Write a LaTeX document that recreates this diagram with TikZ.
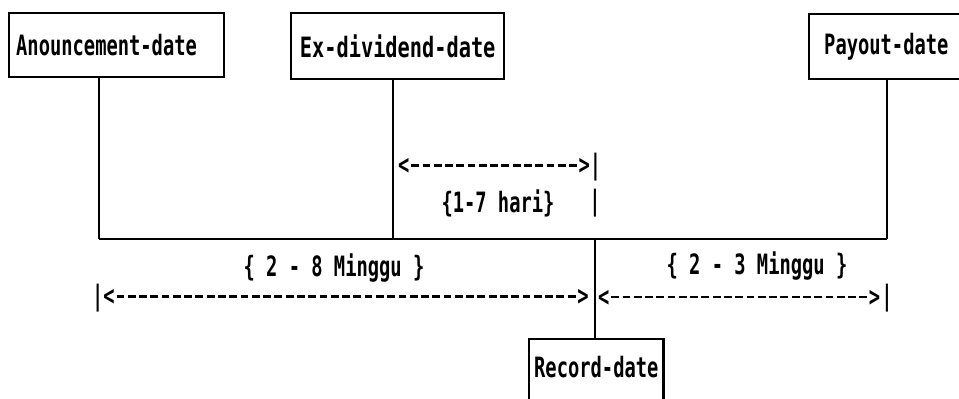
\documentclass[tikz,border=0pt]{standalone}
\usepackage{fontspec}
% narrow bold monospace, close to a dot-matrix print
\newfontfamily\dotfont{DejaVu Sans Mono}[FakeStretch=0.67]
\newfontfamily\dotwidefont{DejaVu Sans Mono}[FakeStretch=0.725]
% one character cell of the monospace grid, and a row of long dashes in it
\newlength\cellw
\setlength\cellw{11.28pt}
\ExplSyntaxOn
\NewDocumentCommand\dashrow{m}{\prg_replicate:nn{#1}{\makebox[\cellw]{\rule[7.6pt]{7.8pt}{2.4pt}}}}
\ExplSyntaxOff
\tikzset{
  datebox/.style={draw, line width=2.4pt, rectangle, inner ysep=0pt,
    font=\dotfont\bfseries\fontsize{28pt}{32pt}\selectfont},
  link/.style={line width=2.4pt},
  txt/.style={inner sep=0pt, font=\dotfont\bfseries\fontsize{28pt}{32pt}\selectfont},
}
\begin{document}
\begin{tikzpicture}[x=1pt,y=-1pt]
\useasboundingbox (0,0) rectangle (959,399);

% date boxes
\node[datebox, anchor=north west, inner xsep=7pt, text width=201pt, align=left,
      minimum height=64pt] (ann) at (8,12) {Anouncement-date};
\node[datebox, anchor=north west, minimum width=213pt, minimum height=66pt,
      font=\dotwidefont\bfseries\fontsize{28pt}{32pt}\selectfont] (exd) at (290,12) {Ex-dividend-date};
\node[datebox, anchor=north west, inner xsep=15pt, text width=140pt, align=left,
      minimum height=65pt] (pay) at (808,13) {Payout-date};
\node[datebox, anchor=north west, inner xsep=5pt, minimum width=134pt,
      text height=38pt, text depth=40pt] (rec) at (528,338) {Record-date};

% junctions on the time line
\coordinate (j1) at (99,239);
\coordinate (j2) at (393,239);
\coordinate (jr) at (595,239);
\coordinate (j3) at (887,239);

\draw[link] (ann.south -| j1) -- (j1);
\draw[link] (exd.south -| j2) -- (j2);
\draw[link] (pay.south -| j3) -- (j3);
\draw[link] (j1) -- (j3);
\draw[link] (jr) -- (rec.north -| jr);

% period markers
\node[txt, anchor=west] (arA) at (398,167) {<\dashrow{15}>|};
\node[txt] (lbA) at (498,203) {\{1-7 hari\}};
\node[txt] (tkA) at (595,203) {|};

\node[txt] (lbB) at (334,268) {\{ 2 - 8 Minggu \}};
\node[txt, anchor=west] (arB) at (92,298) {|<\dashrow{41}>};

\node[txt] (lbC) at (757,266) {\{ 2 - 3 Minggu \}};
\node[txt, anchor=west] (arC) at (598,298) {<\dashrow{23}>};
\node[txt] (tkC) at (887,298) {|};
\end{tikzpicture}
\end{document}
